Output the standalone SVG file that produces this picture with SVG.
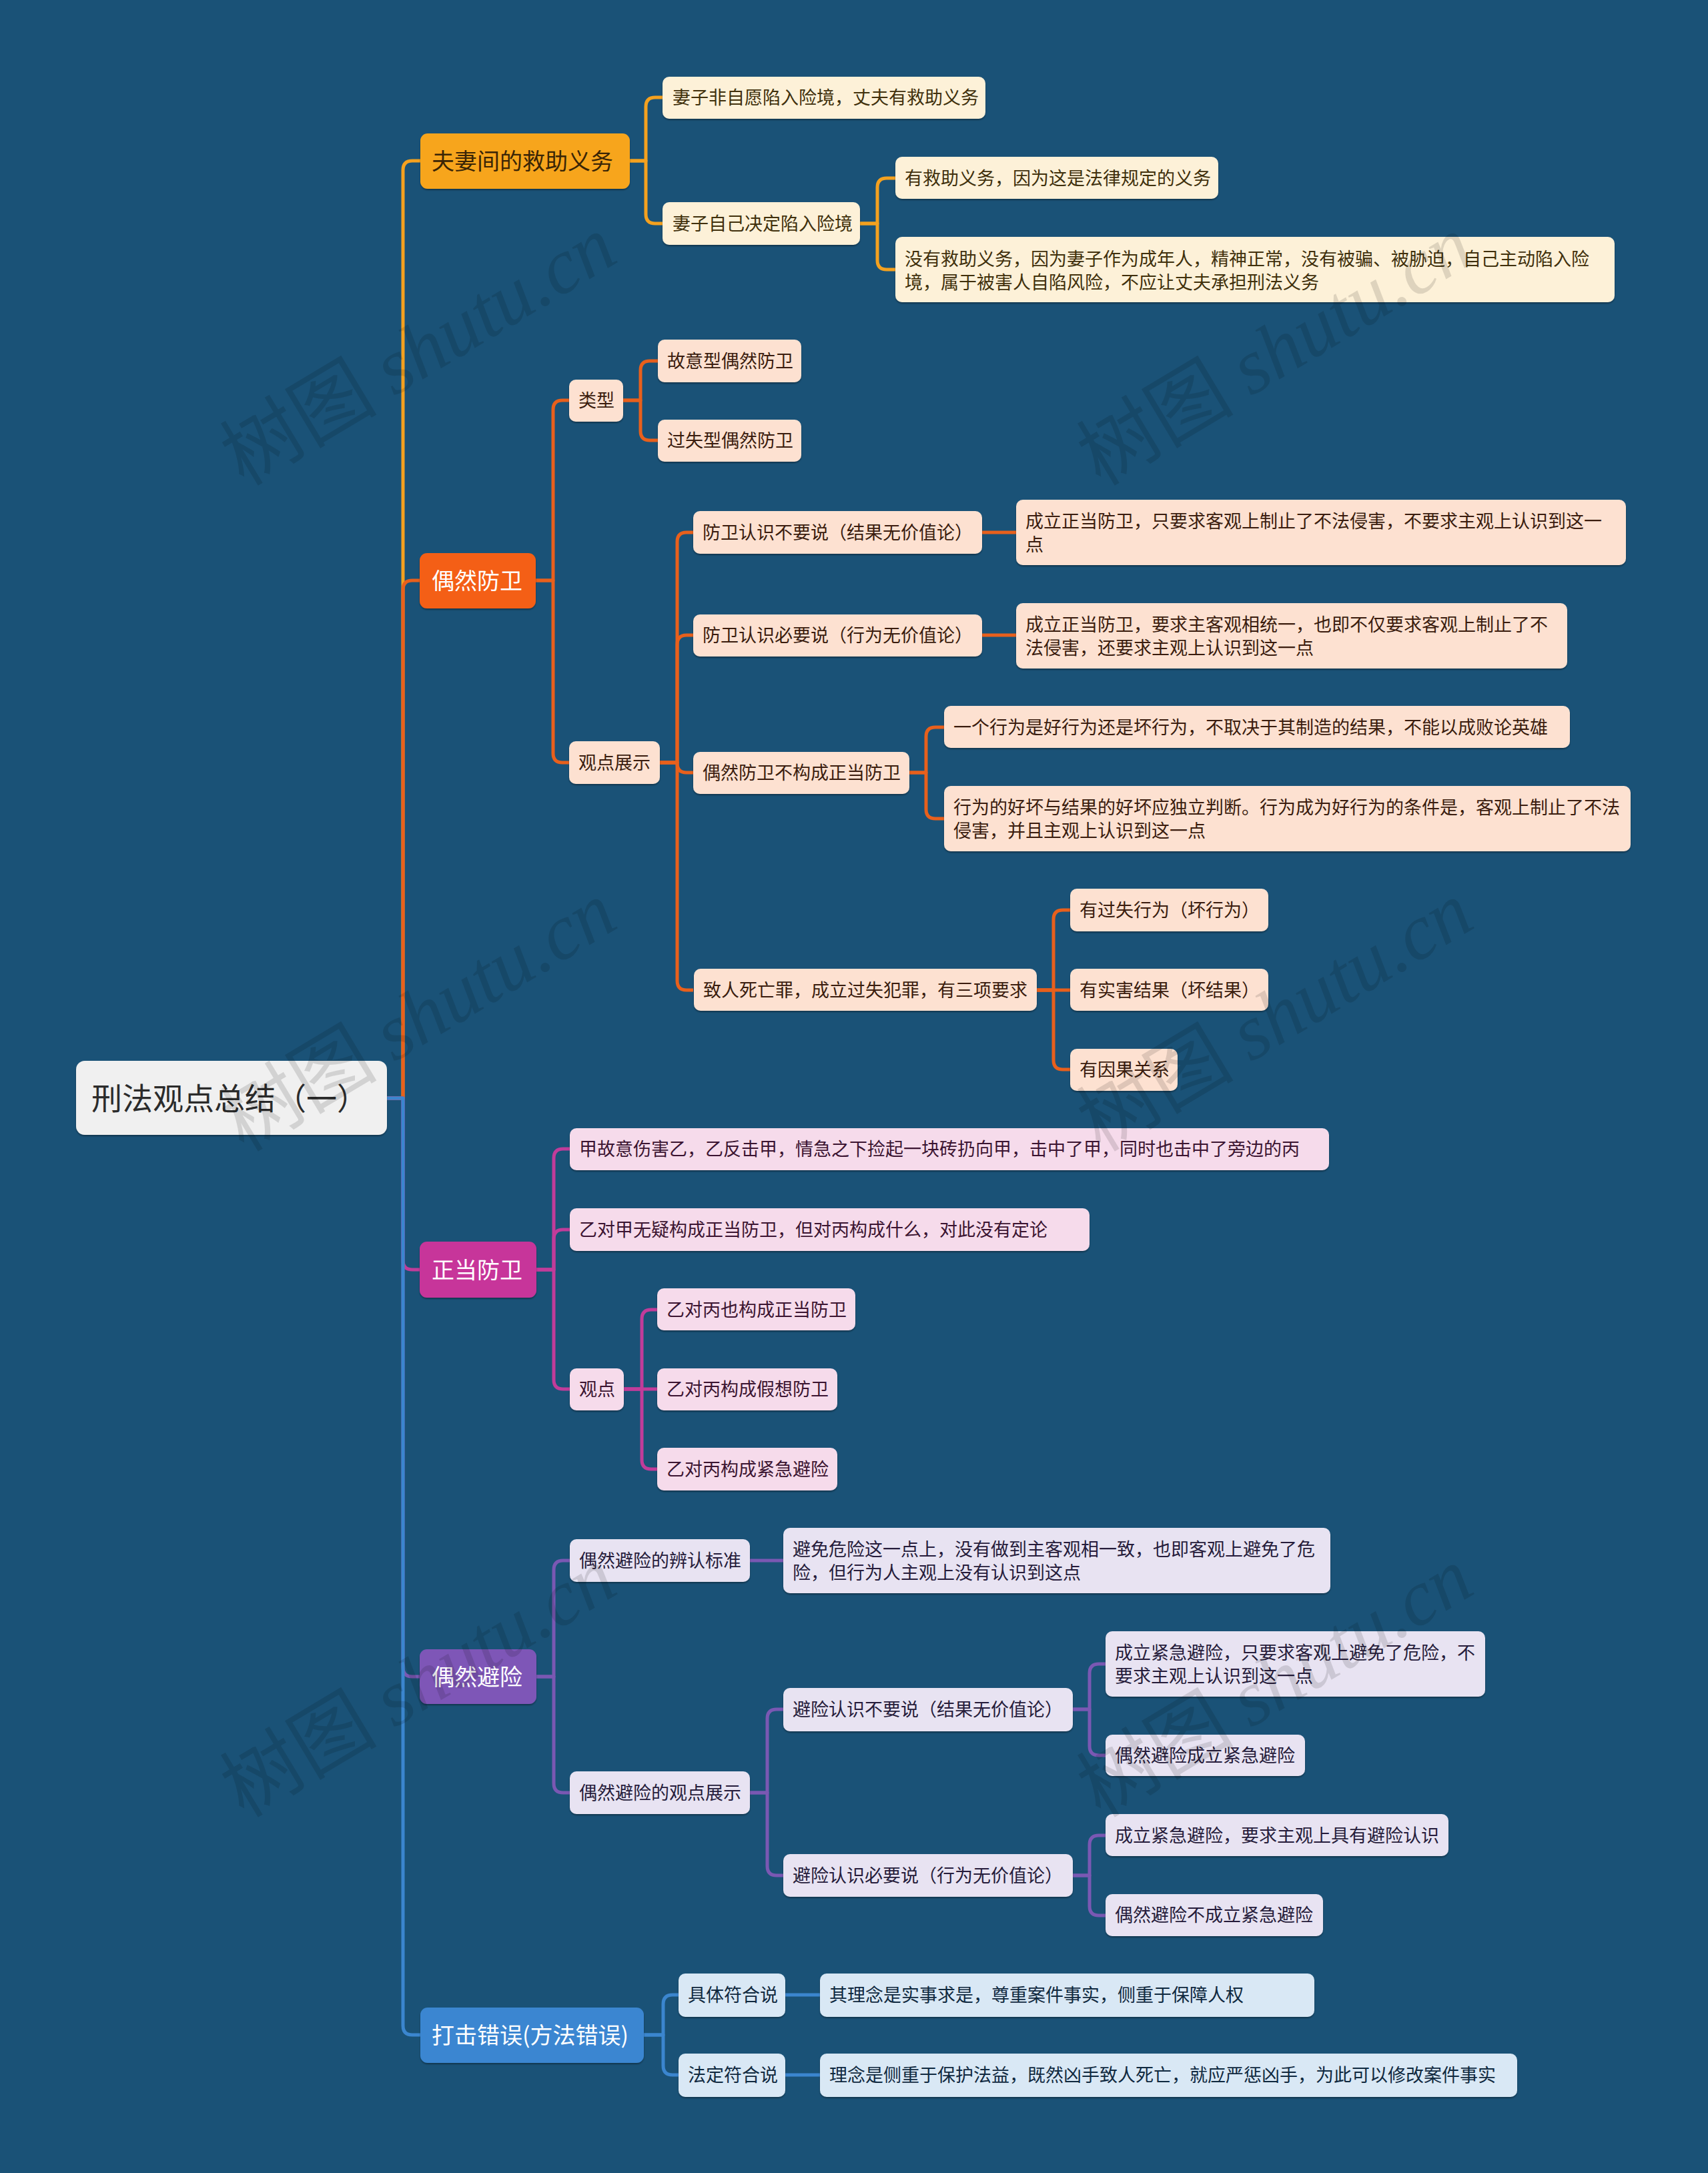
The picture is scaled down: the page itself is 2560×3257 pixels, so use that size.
<svg xmlns="http://www.w3.org/2000/svg" width="2560" height="3257" viewBox="0 0 2560 3257">
<defs>
<filter id="sh" x="-5%" y="-10%" width="110%" height="130%">
<feDropShadow dx="0" dy="2" stdDeviation="1.2" flood-color="#000" flood-opacity="0.35"/>
</filter>
<style>
text{font-family:"Noto Sans CJK SC","Liberation Sans",sans-serif;}
.t2{font-size:27px;}
.t1{font-size:34px;}
.t0{font-size:46px;fill:#2b2b2b;}
rect{filter:url(#sh);}
.c{fill:none;stroke-width:5;stroke-linejoin:round;}
.cy{stroke:#f4a11f;} .co{stroke:#e8601c;} .cm{stroke:#c13c9a;} .cp{stroke:#7a58b3;} .cb{stroke:#3b86cf;}
.fy rect{fill:#fdf1d8;} .fy text{fill:#40300c;}
.fo rect{fill:#fde1d1;} .fo text{fill:#3a1c0e;}
.fm rect{fill:#f6dbeb;} .fm text{fill:#3b1431;}
.fp rect{fill:#e8e3f2;} .fp text{fill:#261c3b;}
.fb rect{fill:#d9e8f5;} .fb text{fill:#10293f;}
.wm{font-size:118px;fill:#000;fill-opacity:0.12;}
.wm .s{font-family:"Liberation Serif",serif;font-style:italic;}
</style>
</defs>
<rect x="0" y="0" width="2560" height="3257" fill="#1a5277" style="filter:none"/>

<g id="connectors">
<path class="c cy" d="M580,1646 H604 V255 Q604,241 618,241 H630"/>
<path class="c co" d="M580,1646 H604 V884 Q604,870 618,870 H630"/>
<path class="c cm" d="M580,1646 H604 V1889 Q604,1903 618,1903 H630"/>
<path class="c cp" d="M580,1646 H604 V2499 Q604,2513 618,2513 H630"/>
<path class="c cb" d="M580,1646 H604 V3036 Q604,3050 618,3050 H630"/>

<path class="c cy" d="M944,241 H968 V160 Q968,146 982,146 H993"/>
<path class="c cy" d="M944,241 H968 V321 Q968,335 982,335 H993"/>
<path class="c cy" d="M1289,335 H1315 V281 Q1315,267 1329,267 H1342"/>
<path class="c cy" d="M1289,335 H1315 V390 Q1315,404 1329,404 H1342"/>

<path class="c co" d="M803,870 H829 V614 Q829,600 843,600 H853"/>
<path class="c co" d="M803,870 H829 V1129 Q829,1143 843,1143 H853"/>
<path class="c co" d="M934,600 H960 V555 Q960,541 974,541 H986"/>
<path class="c co" d="M934,600 H960 V646 Q960,660 974,660 H986"/>
<path class="c co" d="M989,1143 H1015 V812 Q1015,798 1029,798 H1039"/>
<path class="c co" d="M989,1143 H1015 V966 Q1015,952 1029,952 H1039"/>
<path class="c co" d="M989,1143 H1015 V1144 Q1015,1158 1029,1158 H1039"/>
<path class="c co" d="M989,1143 H1015 V1470 Q1015,1484 1029,1484 H1039"/>
<path class="c co" d="M1472,798 H1523"/>
<path class="c co" d="M1472,952 H1523"/>
<path class="c co" d="M1363,1158 H1388 V1104 Q1388,1090 1402,1090 H1415"/>
<path class="c co" d="M1363,1158 H1388 V1213 Q1388,1227 1402,1227 H1415"/>
<path class="c co" d="M1554,1484 H1579 V1378 Q1579,1364 1593,1364 H1604"/>
<path class="c co" d="M1554,1484 H1604"/>
<path class="c co" d="M1554,1484 H1579 V1589 Q1579,1603 1593,1603 H1604"/>

<path class="c cm" d="M804,1903 H830 V1736 Q830,1722 844,1722 H854"/>
<path class="c cm" d="M804,1903 H830 V1857 Q830,1843 844,1843 H854"/>
<path class="c cm" d="M804,1903 H830 V2068 Q830,2082 844,2082 H854"/>
<path class="c cm" d="M935,2082 H962 V1977 Q962,1963 976,1963 H985"/>
<path class="c cm" d="M935,2082 H985"/>
<path class="c cm" d="M935,2082 H962 V2188 Q962,2202 976,2202 H985"/>

<path class="c cp" d="M804,2513 H830 V2353 Q830,2339 844,2339 H854"/>
<path class="c cp" d="M804,2513 H830 V2673 Q830,2687 844,2687 H854"/>
<path class="c cp" d="M1124,2339 H1174"/>
<path class="c cp" d="M1124,2687 H1150 V2576 Q1150,2562 1164,2562 H1174"/>
<path class="c cp" d="M1124,2687 H1150 V2797 Q1150,2811 1164,2811 H1174"/>
<path class="c cp" d="M1608,2562 H1633 V2508 Q1633,2494 1647,2494 H1657"/>
<path class="c cp" d="M1608,2562 H1633 V2617 Q1633,2631 1647,2631 H1657"/>
<path class="c cp" d="M1608,2811 H1633 V2765 Q1633,2751 1647,2751 H1657"/>
<path class="c cp" d="M1608,2811 H1633 V2857 Q1633,2871 1647,2871 H1657"/>

<path class="c cb" d="M965,3050 H994 V3004 Q994,2990 1008,2990 H1017"/>
<path class="c cb" d="M965,3050 H994 V3096 Q994,3110 1008,3110 H1017"/>
<path class="c cb" d="M1177,2990 H1229"/>
<path class="c cb" d="M1177,3110 H1229"/>
</g>

<g id="root"><rect x="114" y="1590" width="466" height="111" rx="13" fill="#f0f0f0"/><text class="t0" x="137" y="1663">刑法观点总结（一）</text></g>

<g id="b1"><rect x="630" y="200" width="314" height="83" rx="11" fill="#f7a51f"/><text class="t1" x="647" y="254" fill="#3a2506">夫妻间的救助义务</text></g>
<g id="b2"><rect x="629" y="829" width="174" height="83" rx="11" fill="#f45e12"/><text class="t1" x="647" y="883" fill="#ffffff">偶然防卫</text></g>
<g id="b3"><rect x="629" y="1861" width="175" height="84" rx="11" fill="#c7359a"/><text class="t1" x="647" y="1916" fill="#ffffff">正当防卫</text></g>
<g id="b4"><rect x="629" y="2472" width="175" height="82" rx="11" fill="#7e57b7"/><text class="t1" x="647" y="2526" fill="#ffffff">偶然避险</text></g>
<g id="b5"><rect x="630" y="3009" width="335" height="83" rx="11" fill="#3a86d1"/><text class="t1" x="647" y="3063" fill="#ffffff">打击错误(方法错误)</text></g>

<g class="fy">
<g id="y1"><rect x="993" y="115" width="484" height="63" rx="10"/><text class="t2" x="1008" y="156">妻子非自愿陷入险境，丈夫有救助义务</text></g>
<g id="y2"><rect x="993" y="303" width="296" height="64" rx="10"/><text class="t2" x="1008" y="345">妻子自己决定陷入险境</text></g>
<g id="y3"><rect x="1342" y="235" width="484" height="63" rx="10"/><text class="t2" x="1356" y="277">有救助义务，因为这是法律规定的义务</text></g>
<g id="y4"><rect x="1342" y="355" width="1078" height="98" rx="10"/><text class="t2" x="1356" y="398">没有救助义务，因为妻子作为成年人，精神正常，没有被骗、被胁迫，自己主动陷入险</text><text class="t2" x="1356" y="433">境，属于被害人自陷风险，不应让丈夫承担刑法义务</text></g>
</g>

<g class="fo">
<g id="o1"><rect x="853" y="569" width="81" height="63" rx="10"/><text class="t2" x="867" y="610">类型</text></g>
<g id="o2"><rect x="986" y="509" width="215" height="64" rx="10"/><text class="t2" x="1000" y="551">故意型偶然防卫</text></g>
<g id="o3"><rect x="986" y="629" width="215" height="63" rx="10"/><text class="t2" x="1000" y="670">过失型偶然防卫</text></g>
<g id="o4"><rect x="853" y="1111" width="136" height="64" rx="10"/><text class="t2" x="867" y="1153">观点展示</text></g>
<g id="o5"><rect x="1039" y="766" width="433" height="64" rx="10"/><text class="t2" x="1053" y="808">防卫认识不要说（结果无价值论）</text></g>
<g id="o6"><rect x="1523" y="749" width="914" height="98" rx="10"/><text class="t2" x="1537" y="791">成立正当防卫，只要求客观上制止了不法侵害，不要求主观上认识到这一</text><text class="t2" x="1537" y="826">点</text></g>
<g id="o7"><rect x="1039" y="921" width="433" height="63" rx="10"/><text class="t2" x="1053" y="962">防卫认识必要说（行为无价值论）</text></g>
<g id="o8"><rect x="1523" y="904" width="826" height="98" rx="10"/><text class="t2" x="1537" y="946">成立正当防卫，要求主客观相统一，也即不仅要求客观上制止了不</text><text class="t2" x="1537" y="981">法侵害，还要求主观上认识到这一点</text></g>
<g id="o9"><rect x="1039" y="1127" width="324" height="63" rx="10"/><text class="t2" x="1053" y="1168">偶然防卫不构成正当防卫</text></g>
<g id="o10"><rect x="1415" y="1058" width="938" height="63" rx="10"/><text class="t2" x="1429" y="1100">一个行为是好行为还是坏行为，不取决于其制造的结果，不能以成败论英雄</text></g>
<g id="o11"><rect x="1415" y="1178" width="1029" height="98" rx="10"/><text class="t2" x="1429" y="1220">行为的好坏与结果的好坏应独立判断。行为成为好行为的条件是，客观上制止了不法</text><text class="t2" x="1429" y="1255">侵害，并且主观上认识到这一点</text></g>
<g id="o12"><rect x="1040" y="1452" width="514" height="63" rx="10"/><text class="t2" x="1054" y="1494">致人死亡罪，成立过失犯罪，有三项要求</text></g>
<g id="o13"><rect x="1604" y="1332" width="297" height="64" rx="10"/><text class="t2" x="1618" y="1374">有过失行为（坏行为）</text></g>
<g id="o14"><rect x="1604" y="1452" width="297" height="63" rx="10"/><text class="t2" x="1618" y="1494">有实害结果（坏结果）</text></g>
<g id="o15"><rect x="1604" y="1572" width="161" height="63" rx="10"/><text class="t2" x="1618" y="1613">有因果关系</text></g>
</g>

<g class="fm">
<g id="m1"><rect x="854" y="1691" width="1138" height="63" rx="10"/><text class="t2" x="868" y="1732">甲故意伤害乙，乙反击甲，情急之下捡起一块砖扔向甲，击中了甲，同时也击中了旁边的丙</text></g>
<g id="m2"><rect x="854" y="1811" width="779" height="64" rx="10"/><text class="t2" x="868" y="1853">乙对甲无疑构成正当防卫，但对丙构成什么，对此没有定论</text></g>
<g id="m3"><rect x="854" y="2051" width="81" height="63" rx="10"/><text class="t2" x="868" y="2092">观点</text></g>
<g id="m4"><rect x="985" y="1931" width="297" height="63" rx="10"/><text class="t2" x="999" y="1973">乙对丙也构成正当防卫</text></g>
<g id="m5"><rect x="985" y="2051" width="270" height="63" rx="10"/><text class="t2" x="999" y="2092">乙对丙构成假想防卫</text></g>
<g id="m6"><rect x="985" y="2170" width="270" height="64" rx="10"/><text class="t2" x="999" y="2212">乙对丙构成紧急避险</text></g>
</g>

<g class="fp">
<g id="p1"><rect x="854" y="2307" width="270" height="64" rx="10"/><text class="t2" x="868" y="2349">偶然避险的辨认标准</text></g>
<g id="p2"><rect x="1174" y="2290" width="820" height="98" rx="10"/><text class="t2" x="1188" y="2332">避免危险这一点上，没有做到主客观相一致，也即客观上避免了危</text><text class="t2" x="1188" y="2367">险，但行为人主观上没有认识到这点</text></g>
<g id="p3"><rect x="854" y="2655" width="270" height="64" rx="10"/><text class="t2" x="868" y="2697">偶然避险的观点展示</text></g>
<g id="p4"><rect x="1174" y="2530" width="434" height="65" rx="10"/><text class="t2" x="1188" y="2572">避险认识不要说（结果无价值论）</text></g>
<g id="p5"><rect x="1657" y="2445" width="569" height="98" rx="10"/><text class="t2" x="1671" y="2487">成立紧急避险，只要求客观上避免了危险，不</text><text class="t2" x="1671" y="2522">要求主观上认识到这一点</text></g>
<g id="p6"><rect x="1657" y="2600" width="299" height="62" rx="10"/><text class="t2" x="1671" y="2641">偶然避险成立紧急避险</text></g>
<g id="p7"><rect x="1174" y="2779" width="434" height="64" rx="10"/><text class="t2" x="1188" y="2821">避险认识必要说（行为无价值论）</text></g>
<g id="p8"><rect x="1657" y="2719" width="514" height="63" rx="10"/><text class="t2" x="1671" y="2761">成立紧急避险，要求主观上具有避险认识</text></g>
<g id="p9"><rect x="1657" y="2839" width="326" height="63" rx="10"/><text class="t2" x="1671" y="2880">偶然避险不成立紧急避险</text></g>
</g>

<g class="fb">
<g id="u1"><rect x="1017" y="2958" width="160" height="65" rx="10"/><text class="t2" x="1031" y="3000">具体符合说</text></g>
<g id="u2"><rect x="1229" y="2958" width="741" height="65" rx="10"/><text class="t2" x="1243" y="3000">其理念是实事求是，尊重案件事实，侧重于保障人权</text></g>
<g id="u3"><rect x="1017" y="3078" width="160" height="65" rx="10"/><text class="t2" x="1031" y="3120">法定符合说</text></g>
<g id="u4"><rect x="1229" y="3078" width="1045" height="65" rx="10"/><text class="t2" x="1243" y="3120">理念是侧重于保护法益，既然凶手致人死亡，就应严惩凶手，为此可以修改案件事实</text></g>
</g>

<g id="watermark" class="wm" text-anchor="middle">
<text transform="translate(648,560) rotate(-31)">树图 <tspan class="s">shutu.cn</tspan></text>
<text transform="translate(1932,560) rotate(-31)">树图 <tspan class="s">shutu.cn</tspan></text>
<text transform="translate(648,1558) rotate(-31)">树图 <tspan class="s">shutu.cn</tspan></text>
<text transform="translate(1932,1558) rotate(-31)">树图 <tspan class="s">shutu.cn</tspan></text>
<text transform="translate(648,2556) rotate(-31)">树图 <tspan class="s">shutu.cn</tspan></text>
<text transform="translate(1932,2556) rotate(-31)">树图 <tspan class="s">shutu.cn</tspan></text>
</g>
</svg>
